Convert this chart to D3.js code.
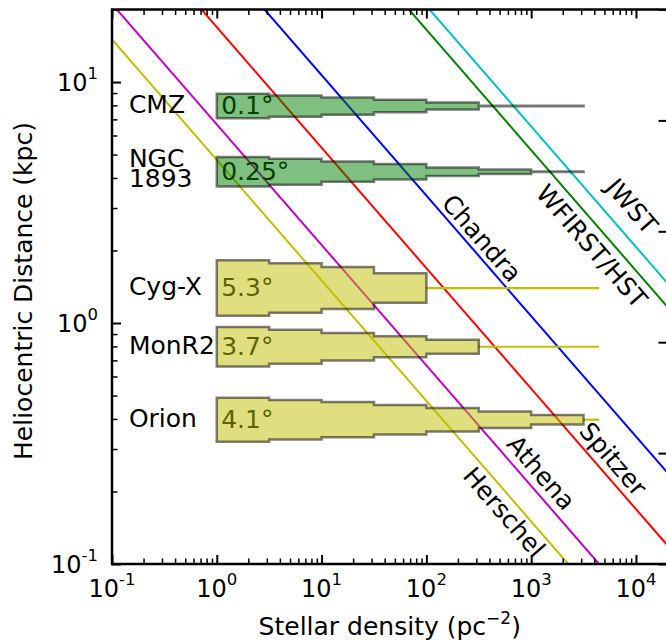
<!DOCTYPE html>
<html>
<head>
<meta charset="utf-8">
<script src="https://cdn.jsdelivr.net/npm/d3@7"></script>
<style>
  body { margin: 0; background: #fff; }
  svg text { font-family: "DejaVu Sans", sans-serif; fill: #000; }
</style>
</head>
<body>
<svg width="666" height="640"></svg>
<script>
// telescope resolution limits: distance = coef / sqrt(density)
const telescopes    = ["Herschel", "Athena", "Spitzer", "Chandra", "WFIRST/HST", "JWST"];
const teleColors    = ["#bfbf00", "#bf00bf", "#ff0000", "#0000ff", "#008000", "#00bfbf"];
const teleCoef      = [4.75, 6.67, 16.9, 33.8, 165, 207];
const teleLabelRho  = [556, 1253, 6095, 340, 3802, 9160];
const teleLabelDist = [0.1644, 0.240, 0.273, 2.253, 2.087, 3.06];

// star forming regions
const regionLines  = [["CMZ"], ["NGC", "1893"], ["Cyg-X"], ["MonR2"], ["Orion"]];
const regionDist   = [7.95, 4.245, 1.397, 0.797, 0.397];
const regionSize   = ["0.1", "0.25", "5.3", "3.7", "4.1"];
const regionColors = ["#008000", "#008000", "#bfbf00", "#bfbf00", "#bfbf00"];
const binEdges     = [1, 3.162, 10, 31.62, 100, 316.2, 1000, 3162];
// half thickness of each density bin (dex)
const hwCMZ   = [0.051, 0.044, 0.036, 0.026, 0.0145, 0.0012, 0.0012];
const hwNGC   = [0.061, 0.054, 0.042, 0.032, 0.018, 0.0095, 0.0012];
const hwCygX  = [0.115, 0.1025, 0.087, 0.061];
const hwMonR2 = [0.082, 0.0705, 0.057, 0.0435, 0.029];
const hwOrion = [0.091, 0.082, 0.073, 0.061, 0.049, 0.034, 0.020];
const regionHw = [hwCMZ, hwNGC, hwCygX, hwMonR2, hwOrion];
const tailEnd  = [null, null, 4440, 4440, 4440];

const xMajor = [0.1, 1, 10, 100, 1000, 10000];
const xExp   = ["-1", "0", "1", "2", "3", "4"];
const yMajor = [0.1, 1, 10];
const yExp   = ["-1", "0", "1"];

const mLeft = 112, mRight = 667.5, mTop = 9.5, mBottom = 564;

const svg = d3.select("svg");

const xScale = d3.scaleLog().domain([0.1, 2e4]).range([mLeft, mRight]);
const yScale = d3.scaleLog().domain([0.1, 20]).range([mBottom, mTop]);
const y2Scale = d3.scaleLinear().domain([0, 1]).range([mBottom, mTop]);

svg.append("clipPath").attr("id", "plotclip")
   .append("rect")
   .attr("x", mLeft).attr("y", mTop)
   .attr("width", mRight - mLeft).attr("height", mBottom - mTop);

const plot = svg.append("g").attr("clip-path", "url(#plotclip)");

// telescope lines
const line = d3.line();
telescopes.forEach((t, i) => {
  const rhos = xScale.domain();
  plot.append("path")
      .attr("d", line(rhos.map(r => [xScale(r), yScale(teleCoef[i] / Math.sqrt(r))])))
      .attr("fill", "none")
      .attr("stroke", teleColors[i])
      .attr("stroke-width", 2);
});

// tails for regions that stop early
regionDist.forEach((d, i) => {
  if (tailEnd[i] == null) return;
  const last = binEdges[regionHw[i].length];
  plot.append("line")
      .attr("x1", xScale(last)).attr("x2", xScale(tailEnd[i]))
      .attr("y1", yScale(d)).attr("y2", yScale(d))
      .attr("stroke", regionColors[i])
      .attr("stroke-width", 2.2);
});

// angular size text (under the bands)
regionDist.forEach((d, i) => {
  plot.append("text")
      .attr("x", xScale(1.1))
      .attr("y", yScale(d) + 8)
      .style("font-size", "25px")
      .text(regionSize[i] + "°");
});

// bands
regionHw.forEach((hw, i) => {
  const c = regionDist[i];
  const upper = [], lower = [];
  hw.forEach((w, j) => {
    const x0 = xScale(binEdges[j]), x1 = xScale(binEdges[j + 1]);
    upper.push([x0, yScale(c * Math.pow(10, w))], [x1, yScale(c * Math.pow(10, w))]);
    lower.push([x0, yScale(c / Math.pow(10, w))], [x1, yScale(c / Math.pow(10, w))]);
  });
  plot.append("path")
      .attr("d", line(upper.concat(lower.reverse())) + "Z")
      .attr("fill", regionColors[i])
      .attr("fill-opacity", 0.5)
      .attr("stroke", "#000")
      .attr("stroke-opacity", 0.5)
      .attr("stroke-width", 2.5)
      .attr("stroke-linejoin", "miter");
});

// region names
regionLines.forEach((lines, i) => {
  const yc = yScale(regionDist[i]);
  const t = svg.append("text")
               .attr("x", xScale(0.145))
               .attr("y", lines.length > 1 ? yc - 5 : yc + 7)
               .style("font-size", "25px");
  lines.forEach((s, k) => {
    t.append("tspan")
     .attr("x", xScale(0.145))
     .attr("dy", k === 0 ? 0 : 20)
     .text(s);
  });
});

// telescope labels, rotated along the lines
const angle = Math.atan2(yScale(1) - yScale(10), xScale(100) - xScale(1)) * 180 / Math.PI;
telescopes.forEach((t, i) => {
  svg.append("text")
     .attr("transform", `translate(${xScale(teleLabelRho[i])}, ${yScale(teleLabelDist[i])}) rotate(${angle})`)
     .attr("text-anchor", "middle")
     .attr("dy", "0.36em")
     .style("font-size", "25px")
     .text(t);
});

// ticks
const xMinor = xScale.ticks().filter(v => !xMajor.some(m => Math.abs(m - v) / m < 1e-6));
const yMinor = yScale.ticks().filter(v => !yMajor.some(m => Math.abs(m - v) / m < 1e-6));

const tickStyle = (g, w) => {
  g.select(".domain").remove();
  g.selectAll(".tick line").attr("stroke", "#000").attr("stroke-width", w);
  g.selectAll(".tick text").remove();
};

svg.append("g").attr("transform", `translate(0,${mBottom})`)
   .call(d3.axisBottom(xScale).tickValues(xMajor).tickSize(-9).tickSizeOuter(0))
   .call(g => tickStyle(g, 2));
svg.append("g").attr("transform", `translate(0,${mBottom})`)
   .call(d3.axisBottom(xScale).tickValues(xMinor).tickSize(-5.5).tickSizeOuter(0))
   .call(g => tickStyle(g, 1.5));
svg.append("g").attr("transform", `translate(0,${mTop})`)
   .call(d3.axisTop(xScale).tickValues(xMajor).tickSize(-9).tickSizeOuter(0))
   .call(g => tickStyle(g, 2));
svg.append("g").attr("transform", `translate(0,${mTop})`)
   .call(d3.axisTop(xScale).tickValues(xMinor).tickSize(-5.5).tickSizeOuter(0))
   .call(g => tickStyle(g, 1.5));
svg.append("g").attr("transform", `translate(${mLeft},0)`)
   .call(d3.axisLeft(yScale).tickValues(yMajor).tickSize(-9).tickSizeOuter(0))
   .call(g => tickStyle(g, 2));
svg.append("g").attr("transform", `translate(${mLeft},0)`)
   .call(d3.axisLeft(yScale).tickValues(yMinor).tickSize(-5.5).tickSizeOuter(0))
   .call(g => tickStyle(g, 1.5));
svg.append("g").attr("transform", `translate(${mRight},0)`)
   .call(d3.axisRight(y2Scale).ticks(5).tickSize(-9).tickSizeOuter(0))
   .call(g => tickStyle(g, 2));

// frame
svg.append("rect")
   .attr("x", mLeft).attr("y", mTop)
   .attr("width", mRight - mLeft).attr("height", mBottom - mTop)
   .attr("fill", "none")
   .attr("stroke", "#000")
   .attr("stroke-width", 2.5);

// tick labels
xMajor.forEach((v, i) => {
  const t = svg.append("text")
               .attr("x", xScale(v)).attr("y", mBottom + 33)
               .attr("text-anchor", "middle")
               .style("font-size", "24px")
               .text("10");
  t.append("tspan").attr("dy", -12).style("font-size", "16.5px").text(xExp[i]);
});
yMajor.forEach((v, i) => {
  const t = svg.append("text")
               .attr("x", mLeft - 14).attr("y", yScale(v) + 8.5)
               .attr("text-anchor", "end")
               .style("font-size", "24px")
               .text("10");
  t.append("tspan").attr("dy", -12).style("font-size", "16.5px").text(yExp[i]);
});

// axis titles
const xt = svg.append("text")
              .attr("x", (mLeft + mRight) / 2).attr("y", 635)
              .attr("text-anchor", "middle")
              .style("font-size", "25px")
              .text("Stellar density (pc");
xt.append("tspan").attr("dy", -11).style("font-size", "17px").text("−2");
xt.append("tspan").attr("dy", 11).text(")");

svg.append("text")
   .attr("transform", `translate(32, 291) rotate(-90)`)
   .attr("text-anchor", "middle")
   .style("font-size", "25px")
   .text("Heliocentric Distance (kpc)");
</script>
</body>
</html>
